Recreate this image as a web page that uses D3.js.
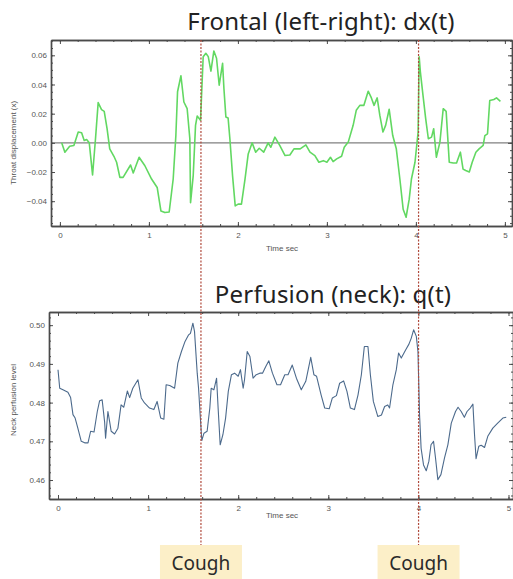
<!DOCTYPE html>
<html>
<head>
<meta charset="utf-8">
<script src="https://cdn.jsdelivr.net/npm/d3@7"></script>
<style>
  body { margin: 0; background: #fff; }
  svg { display: block; }
  .frame .domain { stroke: #4a4a4a; stroke-width: 1.4; }
  .frame .tick line { stroke: #4a4a4a; stroke-width: 1; }
  .frame .tick text { fill: #555; font-family: "Liberation Sans", Arial, sans-serif; font-size: 8px; }
  .lbl { fill: #555; font-family: "Liberation Sans", Arial, sans-serif; font-size: 8px; }
  .title { fill: #222; font-family: "Noto Sans", "Open Sans", sans-serif; font-size: 24px; letter-spacing: 0.2px; }
  .cough-txt { fill: #2a2a2a; font-family: "Noto Sans", "Open Sans", sans-serif; font-size: 19px; }
</style>
</head>
<body>
<svg id="chart" width="513" height="579"></svg>
<script>
// top panel: frontal throat displacement dx(t)
const dxTime = [0.02, 0.056, 0.11, 0.157, 0.206, 0.244, 0.273, 0.30, 0.33, 0.367, 0.40, 0.43, 0.468, 0.498,
  0.53, 0.56, 0.607, 0.637, 0.674, 0.71, 0.794, 0.824, 0.89, 0.955, 1.03, 1.093, 1.135, 1.18, 1.228, 1.273,
  1.303, 1.322, 1.36, 1.393, 1.43, 1.46, 1.468, 1.498, 1.524, 1.543, 1.58, 1.61, 1.64, 1.667, 1.697, 1.73,
  1.76, 1.79, 1.828, 1.843, 1.865, 1.89, 1.91, 1.94, 1.97, 2.003, 2.04, 2.08, 2.116, 2.16, 2.2, 2.24, 2.29,
  2.34, 2.37, 2.416, 2.47, 2.53, 2.584, 2.63, 2.70, 2.764, 2.81, 2.865, 2.91, 2.96, 3.0, 3.04, 3.07, 3.11,
  3.165, 3.195, 3.24, 3.295, 3.33, 3.37, 3.416, 3.464, 3.50, 3.53, 3.565, 3.595, 3.63, 3.66, 3.70, 3.74,
  3.78, 3.82, 3.857, 3.89, 3.925, 3.95, 3.99, 4.025, 4.037, 4.05, 4.08, 4.11, 4.14, 4.176, 4.20, 4.23,
  4.27, 4.307, 4.34, 4.375, 4.42, 4.457, 4.50, 4.53, 4.56, 4.60, 4.633, 4.674, 4.71, 4.756, 4.775, 4.805,
  4.83, 4.876, 4.906, 4.95];
const dxValue = [0.000, -0.0064, -0.0023, -0.0018, 0.0074, 0.0069, 0.0016, 0.0023, 0.000, -0.022, 0.0028,
  0.0276, 0.0228, 0.0216, 0.0097, -0.0041, -0.0092, -0.0133, -0.0237, -0.0237, -0.0152, -0.0207, -0.0099,
  -0.0157, -0.0248, -0.0306, -0.0467, -0.0478, -0.0474, -0.0248, 0.005, 0.035, 0.046, 0.028, 0.0234, 0.0028,
  -0.041, -0.0225, 0.012, 0.0184, 0.0154, 0.059, 0.0614, 0.0591, 0.0492, 0.063, 0.058, 0.0395, 0.0545,
  0.0372, 0.0177, 0.017, 0.0028, -0.0225, -0.0432, -0.042, -0.042, -0.0248, -0.0076, 0.0, -0.0064, -0.0037,
  -0.0064, 0.0, -0.003, 0.0039, -0.0018, -0.0087, -0.0083, -0.0041, -0.0041, -0.0014, -0.0064, -0.0087,
  -0.0133, -0.0122, -0.0133, -0.0099, -0.0129, -0.011, -0.0092, -0.003, 0.0005, 0.012, 0.0223, 0.0257,
  0.0257, 0.0354, 0.0308, 0.0257, 0.0308, 0.0188, 0.0074, 0.012, 0.023, 0.005, -0.0041, -0.0248, -0.0455,
  -0.051, -0.0386, -0.0248, -0.0133, 0.0074, 0.059, 0.0488, 0.0326, 0.0166, 0.0028, 0.0039, 0.0097,
  -0.0099, 0.0005, 0.0234, 0.0216, -0.0133, -0.0138, -0.0138, -0.0064, -0.018, -0.019, -0.020, -0.0133,
  -0.0064, -0.0041, -0.0018, 0.005, 0.0062, 0.029, 0.0297, 0.0308, 0.0285];

// bottom panel: neck perfusion q(t)
const qTime = [0.0, 0.019, 0.055, 0.11, 0.14, 0.166, 0.19, 0.22, 0.258, 0.296, 0.333, 0.362, 0.40, 0.436,
  0.462, 0.49, 0.517, 0.528, 0.554, 0.573, 0.59, 0.628, 0.665, 0.70, 0.73, 0.77, 0.795, 0.83, 0.887, 0.924,
  0.96, 1.016, 1.064, 1.10, 1.14, 1.175, 1.20, 1.24, 1.294, 1.33, 1.37, 1.41, 1.45, 1.47, 1.497, 1.515,
  1.545, 1.56, 1.58, 1.596, 1.62, 1.655, 1.685, 1.70, 1.73, 1.76, 1.777, 1.80, 1.83, 1.86, 1.89, 1.925,
  1.96, 2.0, 2.025, 2.055, 2.07, 2.10, 2.13, 2.165, 2.20, 2.24, 2.27, 2.306, 2.34, 2.38, 2.43, 2.47, 2.517,
  2.553, 2.60, 2.646, 2.70, 2.75, 2.805, 2.84, 2.87, 2.92, 2.96, 3.01, 3.045, 3.09, 3.126, 3.17, 3.207,
  3.245, 3.29, 3.33, 3.367, 3.40, 3.44, 3.467, 3.50, 3.55, 3.59, 3.625, 3.66, 3.68, 3.717, 3.755, 3.78,
  3.81, 3.858, 3.895, 3.92, 3.947, 3.977, 3.995, 4.013, 4.03, 4.057, 4.087, 4.116, 4.14, 4.168, 4.19,
  4.216, 4.25, 4.29, 4.327, 4.365, 4.412, 4.44, 4.475, 4.51, 4.54, 4.575, 4.605, 4.623, 4.64, 4.67, 4.697,
  4.734, 4.77, 4.826, 4.88, 4.937, 4.975];
const qValue = [0.4885, 0.4837, 0.4833, 0.4827, 0.4813, 0.4769, 0.476, 0.4734, 0.470, 0.4696, 0.4696,
  0.4726, 0.4724, 0.4777, 0.4805, 0.4807, 0.4751, 0.4708, 0.4777, 0.4751, 0.4726, 0.4719, 0.4734, 0.4794,
  0.4788, 0.483, 0.4813, 0.4837, 0.4859, 0.4812, 0.4799, 0.4786, 0.4782, 0.4803, 0.476, 0.4757, 0.4846,
  0.4844, 0.4837, 0.4902, 0.4932, 0.4958, 0.4975, 0.4979, 0.5005, 0.4984, 0.4876, 0.4837, 0.476, 0.4702,
  0.4721, 0.4726, 0.4786, 0.4837, 0.4833, 0.4863, 0.4786, 0.4691, 0.4717, 0.476, 0.4829, 0.4872, 0.4876,
  0.4868, 0.4885, 0.4837, 0.4859, 0.4932, 0.4919, 0.4863, 0.4872, 0.4876, 0.4876, 0.4893, 0.4908, 0.4876,
  0.4846, 0.4846, 0.4872, 0.4872, 0.4897, 0.4863, 0.4833, 0.4855, 0.4917, 0.4872, 0.4868, 0.482, 0.4786,
  0.4784, 0.4812, 0.4818, 0.485, 0.4856, 0.4829, 0.4786, 0.4782, 0.482, 0.4872, 0.4945, 0.4945, 0.4872,
  0.4803, 0.4764, 0.4768, 0.479, 0.4794, 0.4786, 0.4846, 0.4885, 0.4928, 0.4915, 0.4936, 0.4951, 0.4966,
  0.4988, 0.4971, 0.4932, 0.4768, 0.4682, 0.4639, 0.4624, 0.4648, 0.4691, 0.470, 0.4657, 0.4601, 0.4614,
  0.4657, 0.4691, 0.4747, 0.4777, 0.4788, 0.4777, 0.4762, 0.4777, 0.4786, 0.4796, 0.4717, 0.4655, 0.4687,
  0.469, 0.4684, 0.4713, 0.4734, 0.4747, 0.476, 0.4762];

const timeTicks = [0, 1, 2, 3, 4, 5];
const dxTicks = [-0.04, -0.02, 0.00, 0.02, 0.04, 0.06];
const qTicks = [0.46, 0.47, 0.48, 0.49, 0.50];
const coughTimes = [1.585, 4.03];
const coughLabels = ["Cough", "Cough"];

let svg = d3.select("#chart");

// top panel scales
let x1 = d3.scaleLinear().domain([-0.1, 5.08]).range([51, 512]);
let y1 = d3.scaleLinear().domain([-0.057, 0.0705]).range([226, 40]);
// bottom panel scales
let x2 = d3.scaleLinear().domain([-0.1, 5.05]).range([49, 513]);
let y2 = d3.scaleLinear().domain([0.4551, 0.5034]).range([499, 312]);

const minor = (lo, hi, step) => d3.range(Math.ceil(lo / step), Math.floor(hi / step) + 1).map(i => +(i * step).toFixed(5));

// Mathematica style frame: ticks on all four sides, pointing inward
function drawFrame(g, x, y, yTicks, yMinorStep, yFmt) {
    let [xa, xb] = x.range();
    let [yb, ya] = y.range();
    let xMinor = minor(x.domain()[0], x.domain()[1], 0.2);
    let yMinor = minor(y.domain()[0], y.domain()[1], yMinorStep);
    let none = () => "";

    g.append("g").attr("class", "frame").attr("transform", `translate(0,${yb})`)
        .call(d3.axisBottom(x).tickValues(xMinor).tickSizeInner(-2).tickSizeOuter(0).tickFormat(none));
    g.append("g").attr("class", "frame").attr("transform", `translate(0,${yb})`)
        .call(d3.axisBottom(x).tickValues(timeTicks).tickSizeInner(-4).tickSizeOuter(0).tickPadding(6).tickFormat(d3.format("d")));
    g.append("g").attr("class", "frame").attr("transform", `translate(0,${ya})`)
        .call(d3.axisTop(x).tickValues(xMinor).tickSizeInner(-2).tickSizeOuter(0).tickFormat(none));
    g.append("g").attr("class", "frame").attr("transform", `translate(0,${ya})`)
        .call(d3.axisTop(x).tickValues(timeTicks).tickSizeInner(-4).tickSizeOuter(0).tickFormat(none));

    g.append("g").attr("class", "frame").attr("transform", `translate(${xa},0)`)
        .call(d3.axisLeft(y).tickValues(yMinor).tickSizeInner(-2).tickSizeOuter(0).tickFormat(none));
    g.append("g").attr("class", "frame").attr("transform", `translate(${xa},0)`)
        .call(d3.axisLeft(y).tickValues(yTicks).tickSizeInner(-4).tickSizeOuter(0).tickPadding(4).tickFormat(yFmt));
    g.append("g").attr("class", "frame").attr("transform", `translate(${xb},0)`)
        .call(d3.axisRight(y).tickValues(yMinor).tickSizeInner(-2).tickSizeOuter(0).tickFormat(none));
    g.append("g").attr("class", "frame").attr("transform", `translate(${xb},0)`)
        .call(d3.axisRight(y).tickValues(yTicks).tickSizeInner(-4).tickSizeOuter(0).tickFormat(none));
}

// ---- top panel
let gTop = svg.append("g");
gTop.append("line")
    .attr("x1", x1.range()[0]).attr("x2", x1.range()[1])
    .attr("y1", y1(0)).attr("y2", y1(0))
    .attr("stroke", "#808080").attr("stroke-width", 1.1);

let dxLine = d3.line().x((d, i) => x1(dxTime[i])).y(d => y1(d));
gTop.append("path")
    .datum(dxValue)
    .attr("fill", "none")
    .attr("stroke", "#62d862")
    .attr("stroke-width", 1.6)
    .attr("stroke-linejoin", "round")
    .attr("d", dxLine);

drawFrame(gTop, x1, y1, dxTicks, 0.005, d3.format(".2f"));

gTop.append("text").attr("class", "title")
    .attr("x", 321).attr("y", 30).attr("text-anchor", "middle")
    .text("Frontal (left-right): dx(t)");
gTop.append("text").attr("class", "lbl")
    .attr("x", 282).attr("y", 251).attr("text-anchor", "middle")
    .text("Time sec");
gTop.append("text").attr("class", "lbl")
    .attr("transform", `translate(16, ${y1(0)}) rotate(-90)`)
    .attr("text-anchor", "middle")
    .text("Throat displacement (x)");

// ---- bottom panel
let gBot = svg.append("g");
let qLine = d3.line().x((d, i) => x2(qTime[i])).y(d => y2(d));
gBot.append("path")
    .datum(qValue)
    .attr("fill", "none")
    .attr("stroke", "#4c6a8c")
    .attr("stroke-width", 1.1)
    .attr("stroke-linejoin", "round")
    .attr("d", qLine);

drawFrame(gBot, x2, y2, qTicks, 0.002, d3.format(".2f"));

gBot.append("text").attr("class", "title")
    .attr("x", 333).attr("y", 303).attr("text-anchor", "middle")
    .text("Perfusion (neck): q(t)");
gBot.append("text").attr("class", "lbl")
    .attr("x", 282).attr("y", 518).attr("text-anchor", "middle")
    .text("Time sec");
gBot.append("text").attr("class", "lbl")
    .attr("transform", `translate(16, 400) rotate(-90)`)
    .attr("text-anchor", "middle")
    .text("Neck perfusion level");

// ---- cough markers
let cough = svg.selectAll(".cough")
    .data(coughTimes)
    .enter()
    .append("g")
    .attr("class", "cough");
cough.append("line")
    .attr("x1", d => x1(d)).attr("x2", d => x1(d))
    .attr("y1", 40).attr("y2", 545)
    .attr("stroke", "#b04a3c")
    .attr("stroke-width", 1.2)
    .attr("stroke-dasharray", "2,1.5");
cough.append("rect")
    .attr("x", d => x1(d) - 41).attr("y", 545)
    .attr("width", 82).attr("height", 34)
    .attr("fill", "#fcefc8");
cough.append("text")
    .attr("class", "cough-txt")
    .attr("x", d => x1(d)).attr("y", 570)
    .attr("text-anchor", "middle")
    .text((d, i) => coughLabels[i]);
</script>
</body>
</html>
